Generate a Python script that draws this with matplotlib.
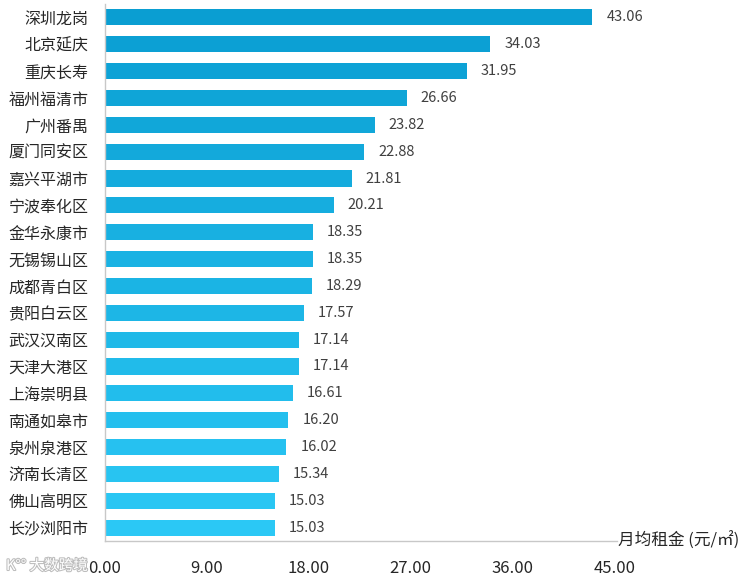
import numpy as np
import matplotlib
matplotlib.use('Agg')
import matplotlib.pyplot as plt
import matplotlib.patheffects as pe
from matplotlib.colors import LinearSegmentedColormap

plt.rcParams['font.family'] = ['Noto Sans CJK SC', 'DejaVu Sans']

# Dados
cidades = ['深圳龙岗', '北京延庆', '重庆长寿', '福州福清市', '广州番禺', '厦门同安区',
           '嘉兴平湖市', '宁波奉化区', '金华永康市', '无锡锡山区', '成都青白区', '贵阳白云区',
           '武汉汉南区', '天津大港区', '上海崇明县', '南通如皋市', '泉州泉港区', '济南长清区',
           '佛山高明区', '长沙浏阳市']
aluguel = [43.06, 34.03, 31.95, 26.66, 23.82, 22.88, 21.81, 20.21, 18.35, 18.35,
           18.29, 17.57, 17.14, 17.14, 16.61, 16.20, 16.02, 15.34, 15.03, 15.03]
ticks_x = [0, 9, 18, 27, 36, 45]

fig = plt.figure(figsize=(7.49, 5.81), dpi=100)
ax = fig.add_axes([105 / 749, 1 - 541 / 581, 512 / 749, 537 / 581])

# Gradiente do azul escuro (topo) para o ciano (base)
cmap = LinearSegmentedColormap.from_list('azul', ['#0A9ED2', '#2BC8F5'])
cores = [cmap(i / (len(cidades) - 1)) for i in range(len(cidades))]

pos = np.arange(len(cidades))
ax.barh(pos, aluguel, height=0.6, color=cores, edgecolor='none')

for p, v in zip(pos, aluguel):
    ax.text(v + 1.25, p, f'{v:.2f}', va='center', ha='left', fontsize=10.5, color='#404040')

ax.set_ylim(len(cidades) - 0.5, -0.5)
ax.set_xlim(0, 45.25)
ax.set_yticks(pos)
ax.set_yticklabels(cidades, fontsize=11.5, color='#262626')
ax.set_xticks(ticks_x)
ax.set_xticklabels([f'{t:.2f}' for t in ticks_x], fontsize=12, color='#262626')
ax.tick_params(axis='y', length=0, pad=12)
ax.tick_params(axis='x', length=0, pad=14)

for lado in ['top', 'right']:
    ax.spines[lado].set_visible(False)
for lado in ['left', 'bottom']:
    ax.spines[lado].set_color('#C8C8C8')
    ax.spines[lado].set_linewidth(1.0)

ax.text(1.002, 0.0, '月均租金 (元/㎡)', transform=ax.transAxes, ha='left', va='center',
        fontsize=12, color='#262626')

# Marca d'água
fig.text(6 / 749, 1 - 566 / 581, 'K°° 大数跨境', fontsize=10.5, color='white', va='center',
         path_effects=[pe.withStroke(linewidth=1.5, foreground='#BDBDBD')])

fig.savefig('out.png', dpi=100)
